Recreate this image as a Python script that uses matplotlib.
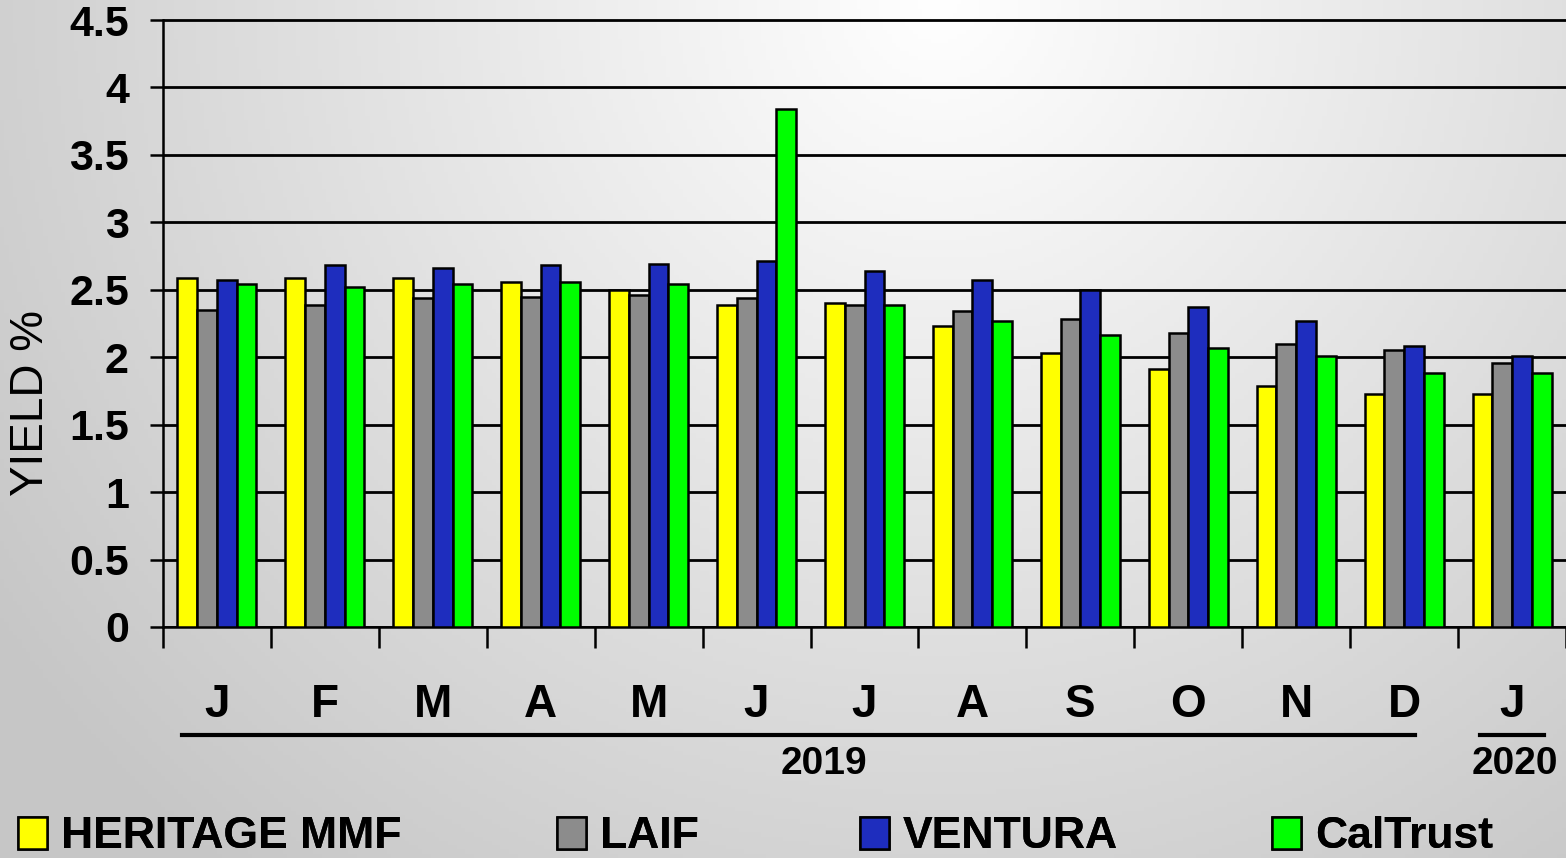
import matplotlib
matplotlib.use('Agg')
import matplotlib.pyplot as plt
import numpy as np

# Monthly yields (%), Jan 2019 .. Jan 2020
months = ['J', 'F', 'M', 'A', 'M', 'J', 'J', 'A', 'S', 'O', 'N', 'D', 'J']
heritage = [2.59, 2.59, 2.59, 2.555, 2.50, 2.39, 2.40, 2.23, 2.03, 1.91, 1.79, 1.73, 1.73]
laif = [2.35, 2.39, 2.44, 2.45, 2.46, 2.44, 2.39, 2.34, 2.285, 2.18, 2.10, 2.05, 1.96]
ventura = [2.57, 2.68, 2.66, 2.68, 2.69, 2.71, 2.64, 2.57, 2.50, 2.37, 2.27, 2.08, 2.01]
caltrust = [2.54, 2.52, 2.54, 2.555, 2.54, 3.84, 2.39, 2.27, 2.165, 2.07, 2.01, 1.88, 1.88]
series_names = ['HERITAGE MMF', 'LAIF', 'VENTURA', 'CalTrust']
yticks = [0, 0.5, 1, 1.5, 2, 2.5, 3, 3.5, 4, 4.5]
ytick_labels = ['0', '0.5', '1', '1.5', '2', '2.5', '3', '3.5', '4', '4.5']

colors = ['#ffff00', '#8c8c8c', '#1e2dbe', '#00ff00']
FONT = 'Liberation Sans'

W, H = 1566, 858
fig = plt.figure(figsize=(W / 100, H / 100), dpi=100)

# background gradient
bg = fig.add_axes([0, 0, 1, 1], zorder=-10)
yy, xx = np.mgrid[0:1:200j, 0:1:360j]
d = np.sqrt(((xx - 0.6) * 1.8) ** 2 + (yy * 1.0) ** 2)
shade = 1.0 - 0.22 * np.clip(d / 1.3, 0, 1)
bg.imshow(np.dstack([shade, shade, shade]), aspect='auto', extent=[0, 1, 0, 1], origin='upper')
bg.axis('off')

# main axes: 0 at y=627px, 4.5 at y=20px
ytop = 4.55
px_per_unit = (627 - 20) / 4.5
ax_h = ytop * px_per_unit
ax = fig.add_axes([163 / W, (H - 627) / H, (W - 163) / W, ax_h / H])
ax.set_facecolor('none')

x = np.arange(len(months)) + 0.5
bw = 0.183
for k, (vals, name) in enumerate(zip([heritage, laif, ventura, caltrust], series_names)):
    ax.bar(x + (k - 1.5) * bw, vals, width=bw, color=colors[k], edgecolor='black',
           linewidth=1.8, label=name, zorder=3)

ax.set_xlim(0, len(months))
ax.set_ylim(0, ytop)
ax.set_yticks(yticks)
ax.set_yticklabels(ytick_labels, fontsize=31, fontweight='bold', family=FONT)
ax.yaxis.grid(True, color='black', linewidth=2)
ax.set_axisbelow(True)

for s in ['top', 'right']:
    ax.spines[s].set_visible(False)
ax.spines['left'].set_bounds(0, 4.5)
ax.spines['left'].set_linewidth(1.8)
ax.spines['bottom'].set_linewidth(1.8)
ax.tick_params(axis='y', length=9.5, width=1.8, pad=15)

# category boundary ticks + month labels
ax.set_xticks(np.arange(len(months) + 1))
ax.set_xticklabels([])
ax.set_xticks(x, minor=True)
ax.set_xticklabels(months, minor=True, fontsize=33, fontweight='bold', family=FONT)
ax.tick_params(axis='x', which='major', length=15, width=1.8, direction='out')
ax.tick_params(axis='x', which='minor', length=0, pad=40)
for t in ax.get_xticklines(minor=False):
    t.set_clip_on(False)

# year brackets
trans = ax.get_xaxis_transform()
y_line = -(735 - 627) / ax_h
y_year = -(764 - 627) / ax_h
ax.plot([0.18, 11.6], [y_line, y_line], color='black', lw=3, transform=trans, clip_on=False)
ax.plot([12.2, 12.8], [y_line, y_line], color='black', lw=3, transform=trans, clip_on=False)
ax.text(6.12, y_year, '2019', transform=trans, ha='center', va='center',
        fontsize=28, fontweight='bold', family=FONT)
ax.text(12.53, y_year, '2020', transform=trans, ha='center', va='center',
        fontsize=28, fontweight='bold', family=FONT)

fig.text(31 / W, (H - 403) / H, 'YIELD %', rotation=90, ha='center', va='center',
         fontsize=33, family=FONT)

# one legend per entry, placed like the original text boxes
handles, labels = ax.get_legend_handles_labels()
leg_x = [18, 557, 860, 1272]
for h, lab, lx in zip(handles, labels, leg_x):
    lg = fig.legend([h], [lab], loc='center left', bbox_to_anchor=(lx / W, (H - 837) / H),
                    frameon=False, borderpad=0, borderaxespad=0, handlelength=0.65,
                    handleheight=0.72, handletextpad=0.32,
                    prop={'family': FONT, 'weight': 'bold', 'size': 32})
    fig.add_artist(lg)

fig.savefig('out.png', dpi=100)
